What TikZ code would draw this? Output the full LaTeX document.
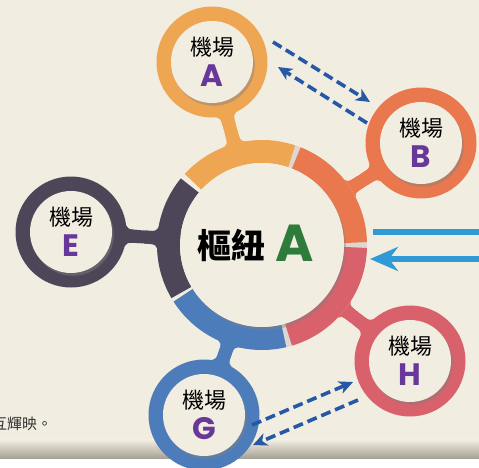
\documentclass[tikz,border=0pt]{standalone}
\usepackage{fontspec}
\newfontfamily\cjk{Noto Sans CJK TC}
\newfontfamily\pop{Poppins}
\usetikzlibrary{shadows,arrows.meta,calc}
\definecolor{bg}{HTML}{F2EDE1}
\definecolor{band}{HTML}{A8A296}
\definecolor{cA}{HTML}{EFA653}
\definecolor{cB}{HTML}{E9784F}
\definecolor{cE}{HTML}{4C4658}
\definecolor{cG}{HTML}{4C7DBA}
\definecolor{cH}{HTML}{D9616B}
\definecolor{gap}{HTML}{DCD7CF}
\definecolor{purp}{HTML}{67379A}
\definecolor{grn}{HTML}{2E7B3C}
\definecolor{dblue}{HTML}{2558A6}
\definecolor{lblue}{HTML}{2F9AD5}
\newcommand\myfillet[4]{%
  \pgfmathsetmacro\dd{900/#3}%
  \fill[#4] ($(#1)+(#2+\dd:#3-0.5)$)
    .. controls ($(#1)+(#2:#3+1)+(#2+90:6.5)$) .. ($(#1)+(#2:#3+13)+(#2+90:6.5)$)
    -- ($(#1)+(#2:#3+13)+(#2-90:6.5)$)
    .. controls ($(#1)+(#2:#3+1)+(#2-90:6.5)$) .. ($(#1)+(#2-\dd:#3-0.5)$)
    -- ($(#1)+(#2:#3-6)$) -- cycle;}
\tikzset{
  satring/.style={circle, minimum size=111pt, inner sep=0pt, fill=#1},
  satdisc/.style={circle, minimum size=82pt, inner sep=0pt, fill=bg,
    drop shadow={shadow xshift=1.8pt, shadow yshift=-2.8pt, opacity=0.45}},
  hubdisc/.style={circle, minimum size=164pt, inner sep=0pt, fill=bg,
    drop shadow={shadow xshift=2pt, shadow yshift=-3pt, opacity=0.4}},
  stem/.style={line width=13pt, draw=#1},
  seg/.style={line width=23pt, draw=#1},
  jc/.style={font=\cjk\fontsize{22}{22}\selectfont, text=black, inner sep=0pt},
  letter/.style={font=\pop\bfseries\fontsize{31}{31}\selectfont, text=purp, inner sep=0pt},
  dasharrow/.style={draw=dblue, line width=3.6pt, dash pattern=on 10pt off 5pt,
    -{Stealth[length=14pt,width=13pt,inset=4pt]}},
  bigarrow/.style={draw=lblue, line width=6pt},
}
\begin{document}
\begin{tikzpicture}[x=1pt,y=1pt]
\useasboundingbox (0,0) rectangle (479,467);
% background
\fill[white] (0,0) rectangle (479,467);
\fill[bg] (0,27) rectangle (479,467);
\shade[top color=bg, bottom color=band] (0,9) rectangle (479,27.2);
% centres
\coordinate (hc) at (262,222);
\coordinate (pA) at (212,405);
\coordinate (pB) at (421,324);
\coordinate (pE) at (71,235);
\coordinate (pG) at (204,52);
\coordinate (pH) at (410,106);
% stems
\draw[stem=cA] (hc) -- (pA);
\draw[stem=cB] (hc) -- (pB);
\draw[stem=cE] (hc) -- (pE);
\draw[stem=cG] (hc) -- (pG);
\draw[stem=cH] (hc) -- (pH);
% fillets
\myfillet{hc}{105.3}{104.5}{cA}
\myfillet{pA}{285.3}{55}{cA}
\myfillet{hc}{32.7}{104.5}{cB}
\myfillet{pB}{212.7}{55}{cB}
\myfillet{hc}{176.1}{104.5}{cE}
\myfillet{pE}{356.1}{55}{cE}
\myfillet{hc}{251.2}{104.5}{cG}
\myfillet{pG}{71.2}{55}{cG}
\myfillet{hc}{321.9}{104.5}{cH}
\myfillet{pH}{141.9}{55}{cH}
% central ring
\draw[seg=gap] ($(hc)+(-80:93.5)$) arc[start angle=-80, end angle=75, radius=93.5];
\draw[seg=cA] ($(hc)+(71.5:93.5)$) arc[start angle=71.5, end angle=137.5, radius=93.5];
\draw[seg=cB] ($(hc)+(1.5:93.5)$) arc[start angle=1.5, end angle=68.5, radius=93.5];
\draw[seg=cH] ($(hc)+(-73.5:93.5)$) arc[start angle=-73.5, end angle=-1.5, radius=93.5];
\draw[seg=cG] ($(hc)+(-147.5:93.5)$) arc[start angle=-147.5, end angle=-76.5, radius=93.5];
\draw[seg=cE] ($(hc)+(140.5:93.5)$) arc[start angle=140.5, end angle=210.5, radius=93.5];
\node[hubdisc] (hub) at (hc) {};
% satellites
\node[satring=cA] (A) at (pA) {};
\node[satring=cB] (B) at (pB) {};
\node[satring=cE] (E) at (pE) {};
\node[satring=cG] (G) at (pG) {};
\node[satring=cH] (H) at (pH) {};
\node[satdisc] (Ad) at (A) {};
\node[satdisc] (Bd) at (B) {};
\node[satdisc] (Ed) at (E) {};
\node[satdisc] (Gd) at (G) {};
\node[satdisc] (Hd) at (H) {};
% texts
\foreach \s/\l in {A/A,B/B,E/E,G/G,H/H}{
  \node[jc] (\s j) at ($(\s)+(0,15)$) {機場};
  \node[letter] (\s l) at ($(\s)+(0,-14)$) {\l};
}
\node[font=\cjk\bfseries\fontsize{34}{34}\selectfont, inner sep=0pt] (hubt) at (231,222) {樞紐};
\node[font=\pop\bfseries\fontsize{52}{52}\selectfont, text=grn, inner sep=0pt] (huba) at (295,224) {A};
% dashed arrows
\coordinate (ab1) at (273,425); \coordinate (ab2) at (370,365);
\coordinate (ba1) at (367,344); \coordinate (ba2) at (278,400);
\coordinate (gh1) at (252,42); \coordinate (gh2) at (353,85);
\coordinate (hg1) at (358,67); \coordinate (hg2) at (253,22);
\draw[dasharrow] (ab1) -- (ab2);
\draw[dasharrow] (ba1) -- (ba2);
\draw[dasharrow] (gh1) -- (gh2);
\draw[dasharrow] (hg1) -- (hg2);
% right blue lines
\coordinate (u1) at (373,235); \coordinate (u2) at (480,235);
\coordinate (l1) at (480,208); \coordinate (l2) at (370,208);
\draw[bigarrow] (u1) -- (u2);
\draw[bigarrow, -{Stealth[length=28pt,width=24pt,inset=9pt]}] (l1) -- (l2);
% bottom-left text
\begin{scope}
\clip (0,0) rectangle (479,467);
\node[anchor=base west, font=\cjk\fontsize{15}{15}\selectfont, text=black!80, inner sep=0pt] (note) at (-8,38) {互輝映。};
\end{scope}
\end{tikzpicture}
\end{document}
